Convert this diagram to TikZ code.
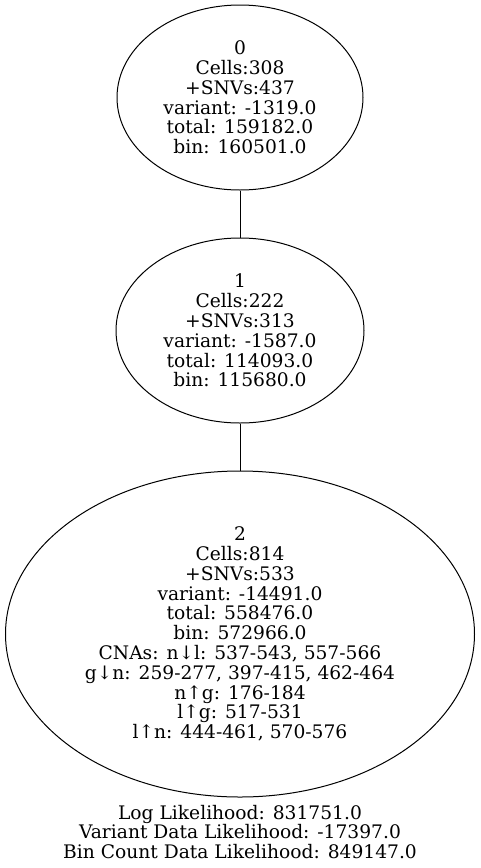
\documentclass[tikz,border=0pt]{standalone}
\usepackage{fontspec}
\setmainfont{DejaVu Serif}
\usetikzlibrary{shapes.geometric}
\begin{document}
\begin{tikzpicture}[x=0.75pt,y=-0.75pt,
  tnode/.style={ellipse,draw,line width=0.75pt,inner sep=0pt,align=center,
    font=\fontsize{14}{14.85}\selectfont},
  conn/.style={line width=0.75pt},
  foot/.style={align=center,inner sep=0pt,font=\fontsize{14}{14.85}\selectfont}]
\useasboundingbox (0,0) rectangle (480,868);
\node[tnode,minimum width=246*0.75pt,minimum height=185*0.75pt] (n0) at (240,97.5)
  {0\\Cells:308\\+SNVs:437\\variant: -1319.0\\total: 159182.0\\bin: 160501.0};
\node[tnode,minimum width=248*0.75pt,minimum height=185*0.75pt] (n1) at (240,330.5)
  {1\\Cells:222\\+SNVs:313\\variant: -1587.0\\total: 114093.0\\bin: 115680.0};
\node[tnode,minimum width=469*0.75pt,minimum height=326*0.75pt] (n2) at (240,634)
  {2\\Cells:814\\+SNVs:533\\variant: -14491.0\\total: 558476.0\\bin: 572966.0\\CNAs: n↓l: 537-543, 557-566\\g↓n: 259-277, 397-415, 462-464\\n↑g: 176-184\\l↑g: 517-531\\l↑n: 444-461, 570-576};
\draw[conn] (n0) -- (n1);
\draw[conn] (n1) -- (n2);
\node[foot] (ft) at (240,832) {Log Likelihood: 831751.0\\Variant Data Likelihood: -17397.0\\Bin Count Data Likelihood: 849147.0};
\end{tikzpicture}
\end{document}
